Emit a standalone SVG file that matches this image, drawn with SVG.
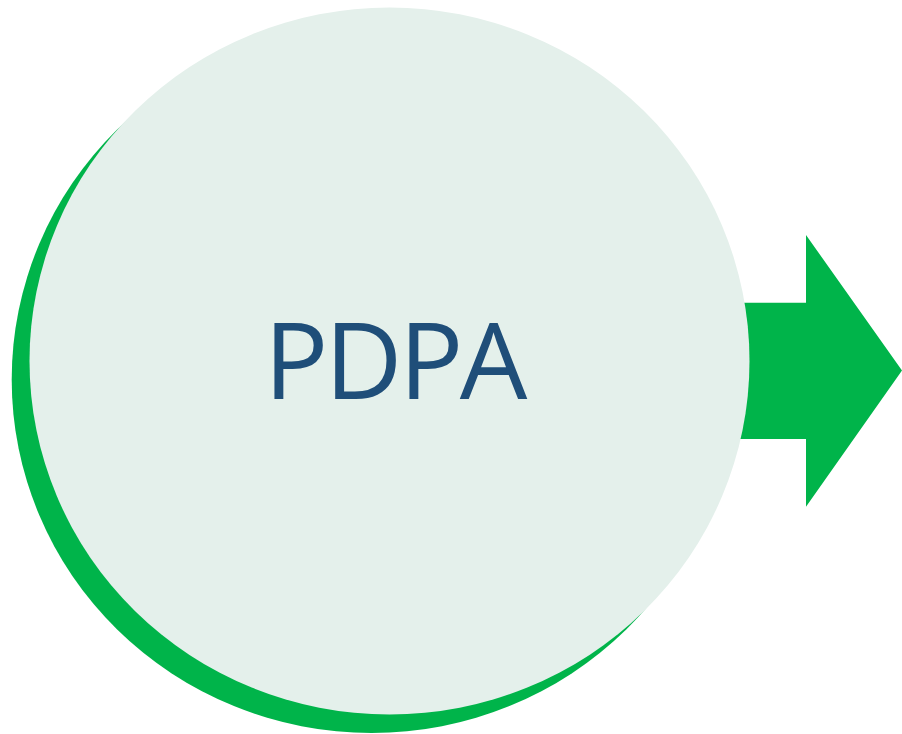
<svg xmlns="http://www.w3.org/2000/svg" width="902" height="734" viewBox="0 0 902 734">
<style>
.green{fill:#00B44A}
.light{fill:#E4F0EB}
.label{font-family:"Open Sans","Noto Sans",sans-serif;font-size:107px;letter-spacing:-3.5px;fill:#1F4E79}
</style>
<g id="connectors">
<polygon class="green" points="700,302.7 806,302.7 806,235 902,370.5 806,506.7 806,439 700,439"/>
</g>
<g id="node-pdpa">
<ellipse class="green" cx="371.7" cy="379.5" rx="360" ry="353.5"/>
<ellipse class="light" cx="389.5" cy="361" rx="360" ry="353.5"/>
<text class="label" x="394" y="399" text-anchor="middle">PDPA</text>
</g>
</svg>
